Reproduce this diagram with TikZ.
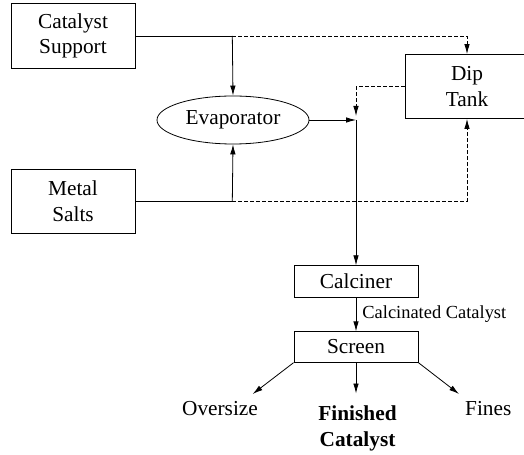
\documentclass[tikz,border=0pt]{standalone}
\usepackage{fontspec}
\setmainfont{Liberation Serif}
\usetikzlibrary{arrows.meta,shapes.geometric}
\begin{document}
\begin{tikzpicture}[x=1bp,y=-1bp,
  line width=0.8bp,
  mainfont/.style={font=\fontsize{21.4}{25.7}\selectfont},
  unit/.style={draw, rectangle, inner sep=0pt, align=center, mainfont},
  flow/.style={-{Latex[length=10bp,width=5.5bp]}},
  side/.style={flow, dashed, dash pattern=on 4bp off 2bp},
  outtext/.style={inner sep=0pt, align=center, mainfont}]
\useasboundingbox (0,0) rectangle (524,455);
\clip (0,0) rectangle (524,455);

\node[unit, minimum width=124bp, minimum height=65bp] (cs) at (73,36) {Catalyst\\Support};
\node[unit, minimum width=124bp, minimum height=64bp] (ms) at (73,201) {Metal\\Salts};
\node[unit, minimum width=124bp, minimum height=64bp] (dip) at (467,86.5) {Dip\\Tank};
\node[draw, ellipse, inner sep=0pt, minimum width=152bp, minimum height=48bp, mainfont] (evap) at (233,120) {Evaporator};
\node[unit, minimum width=124bp, minimum height=31.5bp] (calc) at (356,281.5) {Calciner};
\node[unit, minimum width=124bp, minimum height=30.5bp] (scr) at (356,347) {Screen};

\coordinate (j1) at (232.3,36);
\coordinate (j2) at (232.3,201);
\coordinate (m) at (356,120);
\coordinate (dt) at (356,86.7);
\coordinate (dtend) at (356,116);

\draw (cs.east) -- (j1);
\draw[flow] (j1) -- (evap.north);
\draw[side] (j1) -- (dip.north |- j1) -- (dip.north);
\draw (ms.east) -- (j2);
\draw[flow] (j2) -- (evap.south);
\draw[side] (j2) -- (dip.south |- j2) -- (dip.south);
\draw[flow] (evap.east) -- (m);
\draw[flow] (m) -- (calc.north);
\draw[side] (dip.west |- dt) -- (dt) -- (dtend);

\draw[flow] (calc.south) -- (scr.north)
  node[midway, right=6bp, inner sep=0pt, font=\fontsize{18.5}{22}\selectfont] (lbl) {Calcinated Catalyst};

\node[outtext] (over) at (220,409) {Oversize};
\node[outtext] (fines) at (488.3,409) {Fines};
\node[outtext, font=\fontsize{21.4}{26}\selectfont\bfseries] (fin) at (357.5,428) {Finished\\Catalyst};

\coordinate (o1) at (252.7,394);
\coordinate (o2) at (356,393.5);
\coordinate (o3) at (459,394);
\draw[flow] (scr.south west) -- (o1);
\draw[flow] (scr.south) -- (o2);
\draw[flow] (scr.south east) -- (o3);
\end{tikzpicture}
\end{document}
